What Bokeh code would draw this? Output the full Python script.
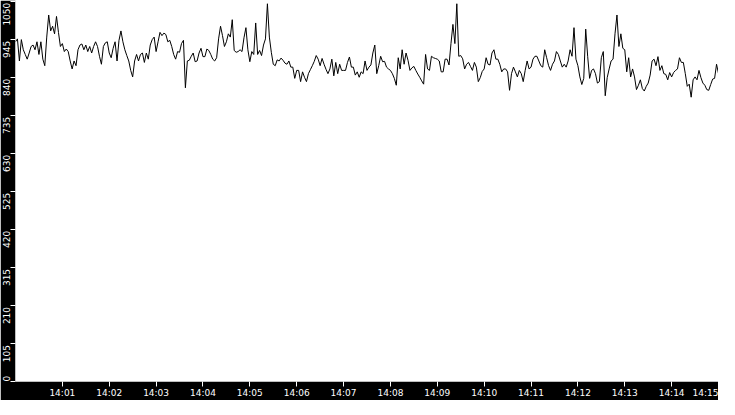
import numpy as np
import pandas as pd
from bokeh.plotting import figure
from bokeh.models import (ColumnDataSource, Range1d, FixedTicker, LinearAxis,
                          CustomLabelingPolicy)
from bokeh.embed import file_html
from bokeh.resources import INLINE

# ---- data -------------------------------------------------------------
START = "2024-01-01 14:00:00"
STEP_SECONDS = 2.5

values = [
    938, 946, 885, 944, 916, 903, 890, 907, 925, 929,
    916, 938, 903, 938, 890, 872, 951, 1012, 968, 981,
    960, 1008, 964, 925, 933, 911, 918, 911, 885, 863,
    885, 872, 916, 929, 932, 916, 929, 911, 925, 907,
    925, 938, 925, 898, 876, 925, 935, 938, 907, 894,
    920, 938, 885, 942, 968, 938, 916, 900, 885, 859,
    841, 885, 903, 885, 903, 907, 881, 907, 890, 929,
    944, 951, 911, 938, 964,
    955, 962, 958, 938, 942, 925, 903, 890, 911, 909,
    933, 942, 811, 885, 887, 898, 907, 883, 885, 907,
    920, 897, 897, 918, 914, 903, 890, 885, 894, 946,
    981, 955, 925, 938, 960, 951, 999, 914, 909, 911,
    916, 911, 949, 977, 916, 883, 911, 903, 990, 903,
    914, 900, 929, 946, 1043, 951, 909, 876, 872, 888,
    885, 893, 887, 879, 876, 885, 868, 868, 837, 859,
    859, 828, 855,
    840, 828, 850, 861, 872, 884, 900, 890, 872, 892,
    876, 862, 850, 863, 890, 844, 881, 850, 876, 859,
    859, 859, 881, 896, 868, 868, 846, 855, 840, 855,
    850, 885, 859, 868, 874, 907, 929, 850, 872, 898,
    883, 884, 868, 863, 859, 850, 837, 818, 894, 863,
    916, 876, 907, 887, 859, 866, 870, 859, 849, 840,
    830, 821, 903, 863, 859, 898, 894, 892, 890, 885,
    855, 855,
    890, 890, 874, 933, 986, 933, 1043, 898, 900, 891,
    863, 876, 881, 870, 859, 881, 868, 828, 839, 856,
    863, 894, 876, 874, 907, 916, 890, 890, 876, 855,
    863, 863, 855, 804, 850, 868, 855, 841, 859, 850,
    828, 859, 885, 863, 868, 890, 898, 898, 885, 872,
    868, 916, 894, 872, 859, 876, 885, 911, 903, 885,
    868, 876, 868, 885, 916, 898, 977, 890, 872, 841,
    820, 837, 973,
    898, 837, 859, 863, 850, 824, 828, 894, 911, 789,
    839, 863, 885, 890, 960, 1012, 925, 960, 920, 916,
    855, 894, 841, 863, 841, 806, 818, 833, 809, 802,
    815, 824, 846, 885, 890, 872, 897, 859, 872, 850,
    848, 833, 853, 841, 853, 859, 863, 894, 881, 881,
    850, 815, 821, 785, 833, 841, 833, 859, 839, 824,
    818, 806, 804, 820, 835, 837, 876, 850,
]

y_ticks = [0, 105, 210, 315, 420, 525, 630, 735, 840, 945, 1050]
y_tick_labels = ["0", "105", "210", "315", "420", "525", "630", "735", "840", "945", "1050"]
x_tick_minutes = list(range(1, 16))
x_tick_labels = ["14:01", "14:02", "14:03", "14:04", "14:05", "14:06", "14:07", "14:08",
                 "14:09", "14:10", "14:11", "14:12", "14:13", "14:14", "14:15"]

# ---- layout constants -------------------------------------------------
Y_MAX = 1052
FRAME_W, FRAME_H = 703, 381
FONT = "DejaVu Sans"
FONT_PX = 9
DIGIT_PX = 0.636 * FONT_PX

# ---- build ------------------------------------------------------------
t0 = pd.Timestamp(START)
t_end = t0 + pd.Timedelta(minutes=15)
times = t0 + pd.to_timedelta(np.arange(len(values)) * STEP_SECONDS, unit="s")
src = ColumnDataSource(dict(t=times, v=values))

p = figure(frame_width=FRAME_W, frame_height=FRAME_H, x_axis_type="datetime",
           output_backend="svg", toolbar_location=None,
           x_range=Range1d(t0, t_end), y_range=Range1d(0, Y_MAX),
           min_border_left=0, min_border_bottom=0,
           min_border_top=0, min_border_right=0,
           background_fill_color="white", border_fill_color="black",
           outline_line_color=None)

p.line("t", "v", source=src, line_color="black", line_width=1)
p.grid.visible = False

def to_ms(ts):
    return ts.value / 1e6

# x axis: ticks + labels
x_tick_ms = [to_ms(t0 + pd.Timedelta(minutes=m)) for m in x_tick_minutes]
p.xaxis.ticker = FixedTicker(ticks=x_tick_ms)
p.xaxis.major_label_overrides = {ms: lab for ms, lab in zip(x_tick_ms, x_tick_labels)}
p.xaxis.major_label_standoff = 1

# inner y axis: tick marks only (no label text, no label space)
p.yaxis.ticker = FixedTicker(ticks=y_ticks)
p.yaxis.major_label_overrides = {yv: "" for yv in y_ticks}
p.yaxis.major_label_policy = CustomLabelingPolicy(code="return new Set()")
p.yaxis.major_label_standoff = 0

# outer y axis: labels only, each placed so that its text ends at its tick
data_per_px = Y_MAX / FRAME_H
label_pos = []
for yv, lab in zip(y_ticks, y_tick_labels):
    half = len(lab) * DIGIT_PX / 2
    if yv == 0:
        pos = yv + half * data_per_px
    else:
        pos = yv - (half + 1.5) * data_per_px
    label_pos.append(round(pos, 3))
label_axis = LinearAxis(ticker=FixedTicker(ticks=label_pos),
                        major_label_overrides={pos: lab for pos, lab in zip(label_pos, y_tick_labels)},
                        major_label_orientation="vertical",
                        major_label_standoff=0)
p.add_layout(label_axis, "left")

for ax in (p.xaxis[0], p.yaxis[0], label_axis):
    ax.major_tick_in = 0
    ax.major_tick_line_color = "white"
    ax.minor_tick_line_color = None
    ax.axis_line_color = None
    ax.major_label_text_color = "white"
    ax.major_label_text_font = FONT
    ax.major_label_text_font_size = f"{FONT_PX}px"
p.xaxis.major_tick_out = 5
p.yaxis[0].major_tick_out = 5
label_axis.major_tick_out = 0
label_axis.major_tick_line_color = None

open("out.html", "w").write(file_html(p, INLINE))
